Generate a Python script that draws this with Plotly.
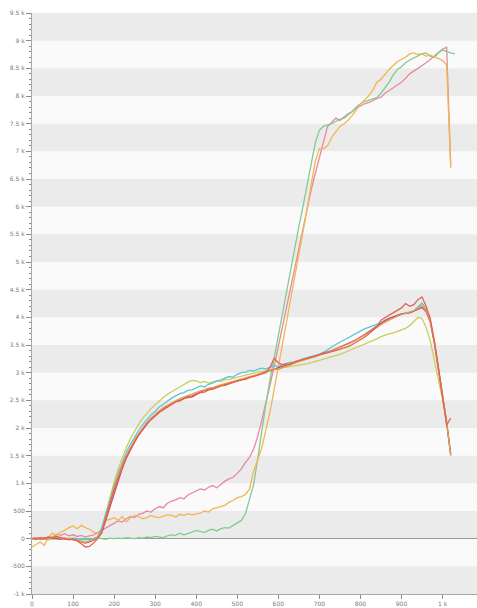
import plotly.graph_objects as go

# Sample positions (shared grid, step 10)
x_a = list(range(0, 1030, 10))          # 0 .. 1020
x_green = list(range(0, 1040, 10))      # 0 .. 1030

# ---- early-rising group ----
cyan = [0, 10, -10, 20, 0, 15, -5, 10, 0, -10, 5, 0, -15, -20, -10, 0,
        40, 200, 450, 720, 960, 1180, 1380, 1560, 1710, 1840, 1960, 2060, 2150, 2240,
        2300, 2380, 2430, 2490, 2540, 2580, 2620, 2640, 2680, 2690,
        2720, 2760, 2740, 2790, 2810, 2850, 2870, 2900, 2930, 2920,
        2970, 3000, 3010, 3040, 3030, 3060, 3080, 3070, 3100, 3130,
        3110, 3150, 3170, 3190, 3180, 3220, 3250, 3270, 3290, 3310,
        3330, 3370, 3420, 3460, 3510, 3550, 3590, 3640, 3680, 3720,
        3760, 3790, 3820, 3850, 3880, 3900, 3950, 3980, 4010, 4040,
        4060, 4080, 4090, 4120, 4200, 4260, 4150, 3950, 3550, 3080,
        2620, 2120, 1500]

red = [0, -10, 20, 10, 30, 10, 40, 20, 0, -20, -10, -40, -90, -150, -140, -80,
       0, 120, 380, 650, 880, 1100, 1300, 1480, 1620, 1760, 1880, 1980, 2080, 2150,
       2220, 2280, 2330, 2380, 2420, 2470, 2490, 2530, 2550, 2560,
       2600, 2640, 2650, 2690, 2700, 2730, 2760, 2770, 2800, 2830,
       2850, 2870, 2880, 2910, 2930, 2950, 2980, 3000, 3100, 3260,
       3180, 3140, 3160, 3150, 3200, 3220, 3240, 3260, 3280, 3290,
       3310, 3340, 3350, 3380, 3400, 3420, 3450, 3470, 3510, 3550,
       3590, 3640, 3700, 3760, 3830, 3950, 4000, 4040, 4080, 4120,
       4170, 4250, 4200, 4230, 4320, 4370, 4200, 3980, 3580, 3100,
       2600, 2050, 2180]

maroon = [0, 10, 0, -10, 10, 20, 0, -10, 10, 0, -20, -30, -60, -80, -60, -30,
          10, 110, 340, 600, 840, 1060, 1270, 1460, 1610, 1750, 1870, 1980, 2070, 2160,
          2230, 2290, 2340, 2400, 2440, 2480, 2500, 2540, 2570, 2580,
          2620, 2650, 2680, 2700, 2720, 2740, 2770, 2790, 2800, 2830,
          2850, 2870, 2900, 2920, 2930, 2960, 2990, 3010, 3040, 3060,
          3090, 3110, 3130, 3160, 3180, 3210, 3230, 3250, 3280, 3300,
          3330, 3350, 3380, 3400, 3430, 3460, 3490, 3520, 3560, 3600,
          3640, 3690, 3740, 3790, 3850, 3900, 3940, 3980, 4010, 4040,
          4060, 4070, 4080, 4110, 4150, 4180, 4100, 3920, 3540, 3070,
          2590, 2090, 1520]

lime = [0, -10, 10, 0, -20, -10, 10, 0, -10, 10, 0, -20, -40, -60, -40, -10,
        30, 180, 460, 760, 1020, 1260, 1470, 1650, 1810, 1950, 2070, 2180, 2270, 2350,
        2420, 2490, 2550, 2610, 2660, 2700, 2740, 2790, 2830, 2860,
        2850, 2820, 2840, 2810, 2830, 2850, 2840, 2870, 2880, 2900,
        2920, 2940, 2950, 2970, 2990, 3010, 3020, 3040, 3050, 3060,
        3080, 3090, 3100, 3110, 3120, 3130, 3150, 3160, 3180, 3200,
        3220, 3240, 3260, 3280, 3300, 3330, 3360, 3390, 3420, 3450,
        3480, 3510, 3540, 3570, 3610, 3650, 3680, 3700, 3720, 3750,
        3780, 3800, 3850, 3920, 4000, 3980, 3820, 3580, 3240, 2880,
        2520, 2080, 1540]

orange = [0, 20, 10, -10, 0, 20, 30, 10, -10, 0, -20, -30, -50, -70, -40, -10,
          20, 140, 400, 680, 920, 1140, 1340, 1500, 1650, 1790, 1900, 2010, 2100, 2180,
          2250, 2310, 2370, 2410, 2460, 2500, 2530, 2560, 2590, 2610,
          2640, 2670, 2690, 2720, 2730, 2760, 2780, 2800, 2820, 2840,
          2870, 2880, 2900, 2930, 2950, 2970, 2990, 3020, 3040, 3070,
          3060, 3090, 3120, 3140, 3170, 3200, 3220, 3240, 3270, 3290,
          3320, 3340, 3370, 3390, 3420, 3450, 3480, 3510, 3550, 3590,
          3630, 3670, 3720, 3770, 3820, 3870, 3910, 3950, 3990, 4020,
          4050, 4070, 4090, 4120, 4170, 4220, 4120, 3940, 3560, 3090,
          2610, 2110, 1510]

# ---- late-rising group ----
pink = [0, 10, -10, 0, 10, 30, 80, 60, 90, 50, 70, 40, 60, 30, 50, 70,
        110, 150, 190, 230, 270, 320, 300, 360, 400, 380, 440, 460, 500, 480,
        540, 580, 560, 640, 680, 700, 740, 720, 790, 830,
        860, 900, 880, 930, 960, 920, 980, 1040, 1080, 1110,
        1180, 1260, 1380, 1470, 1620, 1850, 2150, 2450, 2780, 3120,
        3480, 3840, 4200, 4560, 4900, 5260, 5600, 5950, 6300, 6600,
        6900, 7200, 7450, 7520, 7600, 7560, 7620, 7680, 7720, 7780,
        7820, 7860, 7880, 7920, 7950, 7980, 8050, 8100, 8150, 8200,
        8250, 8320, 8400, 8450, 8500, 8540, 8600, 8660, 8720, 8780,
        8850, 8880, 6750]

amber = [-150, -100, -60, -120, 20, 100, 60, 120, 150, 200, 230, 180, 240, 200, 170, 120,
         100, 160, 330, 350, 380, 330, 400, 300, 380, 420, 400, 360, 380, 420,
         390, 380, 400, 430, 420, 390, 440, 420, 450, 430,
         450, 460, 500, 480, 540, 560, 590, 600, 660, 690,
         740, 760, 800, 900, 1230, 1420, 1650, 1950, 2300, 2700,
         3100, 3500, 3900, 4300, 4700, 5100, 5500, 5950, 6400, 6820,
         7050, 7050, 7100, 7250, 7350, 7450, 7500, 7560, 7650, 7760,
         7850, 7930, 8000, 8100, 8250, 8300, 8400, 8480, 8550, 8620,
         8660, 8700, 8760, 8780, 8750, 8760, 8720, 8740, 8700, 8680,
         8640, 8560, 6700]

green = [0, 10, -10, 0, 10, -10, 0, 10, -10, 0, 10, 0, -10, 10, -20, 0,
         10, 0, -10, 10, 0, 10, 0, 20, 10, 0, 20, 10, 30, 20,
         40, 30, 20, 50, 70, 60, 100, 70, 90, 120,
         150, 130, 110, 150, 170, 140, 180, 200, 190, 240,
         280, 330, 450, 700, 980, 1450, 2000, 2450, 2880, 3280,
         3680, 4080, 4480, 4880, 5260, 5640, 6000, 6400, 6800, 7150,
         7380, 7450, 7480, 7500, 7540, 7580, 7600, 7660, 7720, 7800,
         7860, 7900, 7920, 7950, 7970, 8050, 8150, 8250, 8380, 8480,
         8530, 8600, 8650, 8690, 8720, 8760, 8780, 8720, 8700, 8780,
         8830, 8800, 8780, 8760]

# Axis ticks
y_tickvals = [-1000, -500, 0, 500, 1000, 1500, 2000, 2500, 3000, 3500, 4000,
              4500, 5000, 5500, 6000, 6500, 7000, 7500, 8000, 8500, 9000, 9500]
y_ticktext = ["-1 k", "-500", "0", "500", "1 k", "1.5 k", "2 k", "2.5 k", "3 k",
              "3.5 k", "4 k", "4.5 k", "5 k", "5.5 k", "6 k", "6.5 k", "7 k",
              "7.5 k", "8 k", "8.5 k", "9 k", "9.5 k"]
x_tickvals = [0, 100, 200, 300, 400, 500, 600, 700, 800, 900, 1000]
x_ticktext = ["0", "100", "200", "300", "400", "500", "600", "700", "800", "900", "1 k"]

series = [
    (x_a, pink, "#e8899f"),
    (x_a, green, "#82cc90"),
    (x_a, amber, "#f2b650"),
    (x_a, lime, "#c9cd5e"),
    (x_a, cyan, "#5cc6d6"),
    (x_a, maroon, "#c24d68"),
    (x_a, orange, "#e99b4e"),
    (x_a, red, "#e2644e"),
]

fig = go.Figure()
for xs, ys, col in series:
    n = min(len(xs), len(ys))
    if ys is green:
        xs = x_green
        n = len(ys)
    fig.add_trace(go.Scatter(x=xs[:n], y=ys[:n], mode="lines",
                             line=dict(color=col, width=1.3), showlegend=False,
                             hoverinfo="skip"))

# Alternating horizontal bands, 500 units each
shapes = []
for lo in range(-1000, 9500, 1000):
    shapes.append(dict(type="rect", xref="paper", yref="y", x0=0, x1=1,
                       y0=lo, y1=lo + 500, fillcolor="#ebebeb",
                       line=dict(width=0), layer="below"))

tick_font = dict(family="DejaVu Sans, Verdana, sans-serif", size=6, color="#7a7a7a")

fig.update_layout(
    width=477, height=608,
    margin=dict(l=32, r=0, t=13, b=14),
    paper_bgcolor="white",
    plot_bgcolor="#fafafa",
    shapes=shapes,
    xaxis=dict(range=[0, 1084], tickmode="array", tickvals=x_tickvals,
               ticktext=x_ticktext, ticks="outside", ticklen=4,
               tickcolor="#8a8a8a", showgrid=False, zeroline=False,
               showline=True, linecolor="#a8a8a8", linewidth=1,
               tickfont=tick_font),
    yaxis=dict(range=[-1000, 9500], tickmode="array", tickvals=y_tickvals,
               ticktext=y_ticktext, ticks="outside", ticklen=5,
               tickcolor="#8a8a8a", showgrid=False,
               zeroline=True, zerolinecolor="#9a9a9a", zerolinewidth=1,
               showline=True, linecolor="#a8a8a8", linewidth=1,
               tickfont=tick_font,
               minor=dict(tickmode="linear", tick0=0, dtick=100, ticks="outside",
                          ticklen=2, tickcolor="#8a8a8a", showgrid=False)),
)

fig.write_html("out.html")
